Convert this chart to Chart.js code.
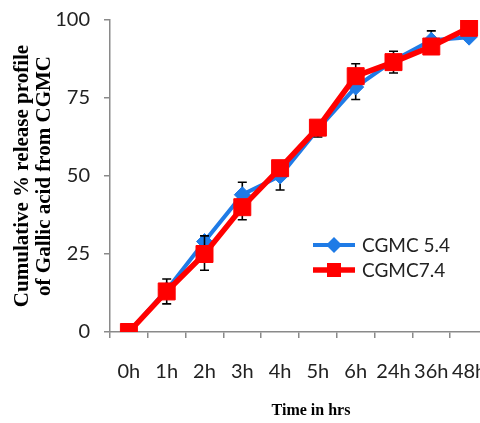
<!DOCTYPE html>
<html><head><meta charset="utf-8">
<script src="https://cdn.jsdelivr.net/npm/chart.js@4/dist/chart.umd.min.js"></script>
<style>
html,body{margin:0;padding:0;overflow:hidden;background:#fff}
#wrap{width:488px;height:423px;position:relative}
canvas{display:block}
</style>
</head><body>
<div id="wrap"><canvas id="c" width="488" height="423"></canvas></div>
<script>
// ---- data ----
const categories = ['0h','1h','2h','3h','4h','5h','6h','24h','36h','48h'];
const seriesNames = ['CGMC 5.4', 'CGMC7.4'];
const cgmc54 = [0, 13.5, 29, 44, 50, 65, 78.5, 87, 93.5, 94.5];
const cgmc74 = [0, 13, 25, 40, 52.5, 65.5, 82, 86.5, 91.5, 97.5];
const cgmc54ErrUp   = [0, 0, 0, 4, 0, 0, 0, 0, 3, 0];
const cgmc54ErrDown = [0, 0, 0, 0, 4.5, 0, 4, 0, 0, 0];
const cgmc74ErrUp   = [0, 4, 5.8, 0, 0, 0, 4, 3.5, 0, 0];
const cgmc74ErrDown = [0, 4, 5.2, 4, 0, 3, 0, 3.5, 0, 0];
const yTicks = [0, 25, 50, 75, 100];
const yTitle = ['Cumulative % release profile', 'of Gallic acid from CGMC'];
const xTitle = 'Time in hrs';

const errUp = [cgmc54ErrUp, cgmc74ErrUp];
const errDown = [cgmc54ErrDown, cgmc74ErrDown];

const BLUE = '#1f7be6';
const RED = '#ff0000';
const AXIS = '#8a8a8a';

const errorBars = {
  id: 'errorBars',
  beforeDatasetDraw(chart, args) {
    const i = args.index;
    const ds = chart.data.datasets[i];
    const ys = chart.scales.y;
    const ctx = chart.ctx;
    ctx.save();
    ctx.strokeStyle = '#000';
    ctx.lineWidth = 1.6;
    args.meta.data.forEach((pt, k) => {
      const v = ds.data[k];
      const up = errUp[i][k], dn = errDown[i][k];
      const x = pt.x;
      const cap = 4.5;
      [[up, 1], [dn, -1]].forEach(([e, s]) => {
        if (e > 0) {
          const y0 = ys.getPixelForValue(v), y1 = ys.getPixelForValue(v + s * e);
          ctx.beginPath(); ctx.moveTo(x, y0); ctx.lineTo(x, y1);
          ctx.moveTo(x - cap, y1); ctx.lineTo(x + cap, y1); ctx.stroke();
        }
      });
    });
    ctx.restore();
  }
};

const insideLegend = {
  id: 'insideLegend',
  afterDraw(chart) {
    const ctx = chart.ctx;
    const a = chart.chartArea;
    const x0 = a.left + 203, x1 = a.left + 245;
    const rows = [a.top + 225, a.top + 250];
    chart.data.datasets.forEach((ds, i) => {
      const y = rows[i];
      ctx.save();
      ctx.strokeStyle = ds.borderColor;
      ctx.lineWidth = ds.borderWidth;
      ctx.beginPath(); ctx.moveTo(x0, y); ctx.lineTo(x1, y); ctx.stroke();
      const cx = (x0 + x1) / 2;
      ctx.fillStyle = ds.borderColor;
      ctx.beginPath();
      if (ds.pointStyle === 'rectRot') {
        const r = 8;
        ctx.moveTo(cx - r, y); ctx.lineTo(cx, y - r); ctx.lineTo(cx + r, y); ctx.lineTo(cx, y + r);
      } else {
        const s = 7;
        ctx.rect(cx - s, y - s, 2 * s, 2 * s);
      }
      ctx.closePath(); ctx.fill();
      ctx.fillStyle = '#222';
      ctx.font = '19px Lato';
      ctx.textBaseline = 'middle';
      ctx.textAlign = 'left';
      ctx.fillText(ds.label, x1 + 7, y + 1);
      ctx.restore();
    });
  }
};

new Chart(document.getElementById('c'), {
  type: 'line',
  data: {
    labels: categories,
    datasets: [
      { label: seriesNames[0], data: cgmc54, borderColor: BLUE, backgroundColor: BLUE,
        borderWidth: 4, pointStyle: 'rectRot', pointRadius: 8, pointBorderWidth: 1,
        pointBackgroundColor: BLUE, pointBorderColor: BLUE, tension: 0, order: 2 },
      { label: seriesNames[1], data: cgmc74, borderColor: RED, backgroundColor: RED,
        borderWidth: 5.5, pointStyle: 'rect', pointRadius: 12, pointBorderWidth: 1,
        pointBackgroundColor: RED, pointBorderColor: RED, tension: 0, order: 1 }
    ]
  },
  options: {
    responsive: false,
    maintainAspectRatio: false,
    animation: false,
    devicePixelRatio: 1,
    layout: { autoPadding: false, padding: { top: 20, left: 12, right: 0, bottom: 2 } },
    plugins: {
      legend: { display: false },
      tooltip: { enabled: false }
    },
    scales: {
      x: {
        type: 'category',
        offset: true,
        afterFit(scale) { scale.height = 89; scale.paddingLeft = 0; scale.paddingRight = 0; },
        grid: { offset: true, drawOnChartArea: false, drawTicks: true, tickLength: 6, color: AXIS, lineWidth: 1.5 },
        border: { color: AXIS, width: 1.5 },
        ticks: { color: '#222', font: { family: 'Lato', size: 20 }, padding: 22, maxRotation: 0, minRotation: 0, autoSkip: false },
        title: { display: true, text: '      ' + xTitle, color: '#000',
          font: { family: 'Liberation Serif', size: 16, weight: 'bold' }, padding: { top: 0, bottom: 1 } }
      },
      y: {
        min: 0, max: 100,
        afterBuildTicks(scale) { scale.ticks = yTicks.map(v => ({ value: v })); },
        afterFit(scale) { scale.width = 98; scale.paddingTop = 0; scale.paddingBottom = 0; },
        grid: { drawOnChartArea: false, drawTicks: true, tickLength: 6, color: AXIS, lineWidth: 1.5 },
        border: { color: AXIS, width: 1.5 },
        ticks: { color: '#222', font: { family: 'Lato', size: 20 }, padding: 14 },
        title: { display: true, text: yTitle, color: '#000',
          font: { family: 'Liberation Serif', size: 21, weight: 'bold', lineHeight: 1.05 }, padding: { top: 0, bottom: 0 } }
      }
    }
  },
  plugins: [errorBars, insideLegend]
});
</script>
</body></html>
